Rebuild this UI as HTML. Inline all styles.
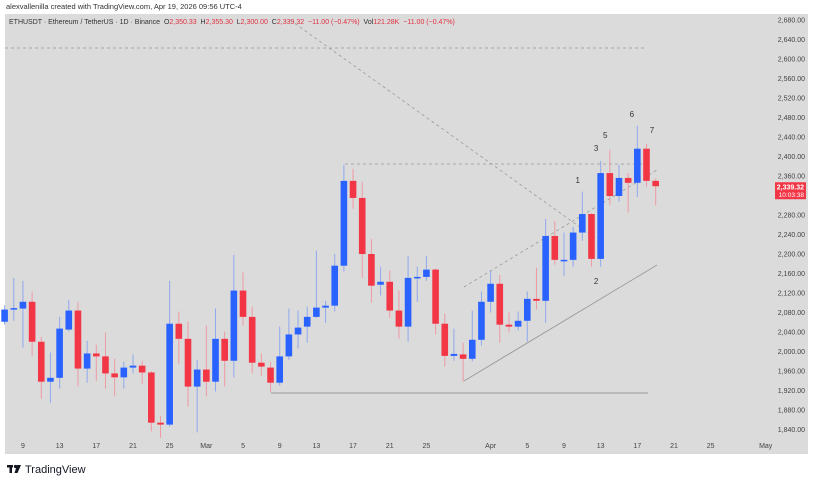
<!DOCTYPE html>
<html><head><meta charset="utf-8">
<style>
body{margin:0;width:813px;height:486px;background:#fff;overflow:hidden;font-family:"Liberation Sans",sans-serif;}
#wrap{position:relative;width:813px;height:486px;}
.attr{position:absolute;left:6px;top:2px;font-size:7.5px;color:#333;}
svg{position:absolute;left:0;top:0;}
</style></head>
<body>
<div id="wrap">
<div class="attr">alexvallenilla created with TradingView.com, Apr 19, 2026 09:56 UTC-4</div>
<svg id="chart" width="813" height="486"></svg>
</div>
<script>
const dates=["Feb 7","Feb 8","Feb 9","Feb 10","Feb 11","Feb 12","Feb 13","Feb 14","Feb 15","Feb 16","Feb 17","Feb 18","Feb 19","Feb 20","Feb 21","Feb 22","Feb 23","Feb 24","Feb 25","Feb 26","Feb 27","Feb 28","Mar 1","Mar 2","Mar 3","Mar 4","Mar 5","Mar 6","Mar 7","Mar 8","Mar 9","Mar 10","Mar 11","Mar 12","Mar 13","Mar 14","Mar 15","Mar 16","Mar 17","Mar 18","Mar 19","Mar 20","Mar 21","Mar 22","Mar 23","Mar 24","Mar 25","Mar 26","Mar 27","Mar 28","Mar 29","Mar 30","Mar 31","Apr 1","Apr 2","Apr 3","Apr 4","Apr 5","Apr 6","Apr 7","Apr 8","Apr 9","Apr 10","Apr 11","Apr 12","Apr 13","Apr 14","Apr 15","Apr 16","Apr 17","Apr 18","Apr 19"];
const opens=[2061,2086,2088,2102,2020,1938,1946,2045,2084,1965,1996,1990,1955,1947,1967,1971,1957,1854,1850,2057,2026,1928,1963,1938,2026,1981,2125,2071,1977,1967,1936,1990,2035,2051,2071,2090,2094,2176,2350,2315,2200,2137,2143,2084,2051,2151,2153,2168,2057,1991,1994,1985,2024,2102,2139,2055,2051,2063,2108,2104,2237,2186,2188,2244,2282,2190,2366,2319,2356,2346,2416,2350];
const highs=[2095,2151,2145,2123,2030,1998,2071,2106,2102,2022,2014,2039,1985,1979,1994,1981,1960,1868,2145,2082,2061,1983,2053,2088,2041,2198,2162,2092,1996,1979,2051,2088,2084,2092,2207,2104,2200,2383,2375,2348,2231,2174,2166,2125,2196,2174,2196,2170,2078,2047,2018,2084,2123,2166,2157,2080,2082,2123,2172,2272,2268,2244,2256,2328,2284,2391,2414,2383,2366,2463,2426,2355];
const lows=[2055,2063,2008,1990,1903,1895,1924,2041,1928,1936,1940,1924,1908,1924,1955,1934,1836,1823,1846,1975,1887,1834,1908,1918,1928,1947,2053,1955,1949,1916,1930,1983,2006,2018,2069,2059,2082,2164,2293,2151,2100,2115,2069,2026,2020,2102,2145,2035,1969,1981,1938,1980,2012,2080,2018,2039,2043,2020,2086,2059,2178,2155,2174,2227,2174,2174,2301,2307,2285,2317,2338,2300];
const closes=[2086,2089,2102,2020,1938,1946,2047,2084,1965,1996,1990,1955,1947,1967,1971,1957,1854,1850,2057,2026,1928,1963,1938,2026,1981,2125,2071,1977,1969,1936,1990,2035,2049,2071,2090,2094,2176,2350,2315,2200,2135,2143,2084,2051,2151,2153,2168,2057,1991,1995,1985,2024,2102,2139,2055,2051,2063,2108,2104,2237,2188,2188,2244,2282,2190,2366,2319,2356,2346,2416,2350,2339];
const priceTicks=[2680,2640,2600,2560,2520,2480,2440,2400,2360,2280,2240,2200,2160,2120,2080,2040,2000,1960,1920,1880,1840];
const timeLabels=["9","13","17","21","25","Mar","5","9","13","17","21","25","Apr","5","9","13","17","21","25","May"];
const timeLabelIdx=[2,6,10,14,18,22,26,30,34,38,42,46,53,57,61,65,69,73,77,83];
const waveLabels=["1","2","3","5","6","7"];
const wavePrices=[2352,2145,2417,2444,2487,2454];
const waveIdx=[62.5,64.5,64.5,65.5,68.4,70.6];

const NS="http://www.w3.org/2000/svg";
const svg=document.getElementById('chart');
const X=i=>4.6+i*9.17;
const Y=p=>20+(2680-p)*195/400;
function mk(tag,attrs,parent){const e=document.createElementNS(NS,tag);for(const k in attrs)e.setAttribute(k,attrs[k]);(parent||svg).appendChild(e);return e;}
const bg=mk('rect',{x:5,y:14,width:803,height:440,fill:'#dbdbdb'});


const hdr=mk('text',{x:9,y:24,'font-size':7,fill:'#333'});


hdr.innerHTML='ETHUSDT · Ethereum / TetherUS · 1D · Binance&#160; O<tspan fill="#e03040">2,350.33</tspan>&#160; H<tspan fill="#e03040">2,355.30</tspan>&#160; L<tspan fill="#e03040">2,300.00</tspan>&#160; C<tspan fill="#e03040">2,339.32</tspan>&#160; <tspan fill="#e03040">−11.00 (−0.47%)</tspan>&#160; Vol<tspan fill="#e03040">121.28K</tspan>&#160; <tspan fill="#e03040">−11.00 (−0.47%)</tspan>';
priceTicks.forEach(p=>{const t=mk('text',{x:805,y:Y(p)+2.5,'font-size':7,fill:'#444','text-anchor':'end'});t.textContent=p.toLocaleString('en-US',{minimumFractionDigits:2});

});
timeLabels.forEach((l,k)=>{const t=mk('text',{x:X(timeLabelIdx[k]),y:448,'font-size':7,fill:'#444','text-anchor':'middle'});t.textContent=l;

});
const d1=mk('line',{x1:5,y1:48,x2:645,y2:48,stroke:'#9a9a9a','stroke-dasharray':'3,3','stroke-width':0.8});


const d2=mk('line',{x1:290,y1:20,x2:598,y2:240,stroke:'#9a9a9a','stroke-dasharray':'3,3','stroke-width':0.8});


const d3=mk('line',{x1:345,y1:164,x2:645,y2:164,stroke:'#9a9a9a','stroke-dasharray':'3,3','stroke-width':0.8});


const d4=mk('line',{x1:464,y1:287,x2:657,y2:170,stroke:'#9a9a9a','stroke-dasharray':'3,3','stroke-width':0.8});


const d5=mk('line',{x1:464,y1:381,x2:657,y2:265,stroke:'#9a9a9a','stroke-width':0.9});


const d6=mk('line',{x1:271,y1:393,x2:648,y2:393,stroke:'#9a9a9a','stroke-width':0.9});


for(let i=0;i<opens.length;i++){
  const up=closes[i]>=opens[i];
  const col=up?'#2962ff':'#f23645';
  const wc=up?'#8fa8ee':'#ee9aa2';
  const g=mk('g',{});
  
  
  mk('line',{x1:X(i),x2:X(i),y1:Y(highs[i]),y2:Y(lows[i]),stroke:wc,'stroke-width':1},g);
  const top=Y(Math.max(opens[i],closes[i])),bot=Y(Math.min(opens[i],closes[i]));
  mk('rect',{x:X(i)-3.3,y:top,width:6.6,height:Math.max(1.5,bot-top),fill:col},g);
}
waveLabels.forEach((l,k)=>{const t=mk('text',{x:X(waveIdx[k]),y:Y(wavePrices[k])+3,'font-size':8,fill:'#333','text-anchor':'middle'});t.textContent=l;

});
const lp=Y(closes[closes.length-1]);
const box=mk('rect',{x:775,y:lp-4,width:31,height:17,fill:'#f23645'});


const t1=mk('text',{x:804,y:lp+3.5,'font-size':7,fill:'#fff','text-anchor':'end','font-weight':'bold'});t1.textContent='2,339.32';


const t2=mk('text',{x:804,y:lp+11,'font-size':6.5,fill:'#fff','text-anchor':'end'});t2.textContent='10:03:38';


const lg=mk('g',{});


mk('rect',{x:7,y:465,width:6,height:2.5,fill:'#131722'},lg);
mk('rect',{x:9.5,y:465,width:2.5,height:8,fill:'#131722'},lg);
mk('circle',{cx:15.5,cy:466.5,r:1.6,fill:'#131722'},lg);
mk('polygon',{points:'17,465 21,465 17.5,473 14.5,473',fill:'#131722'},lg);
const lt=mk('text',{x:25,y:473,'font-size':11,fill:'#131722'},lg);lt.textContent='TradingView';
</script>
</body></html>
